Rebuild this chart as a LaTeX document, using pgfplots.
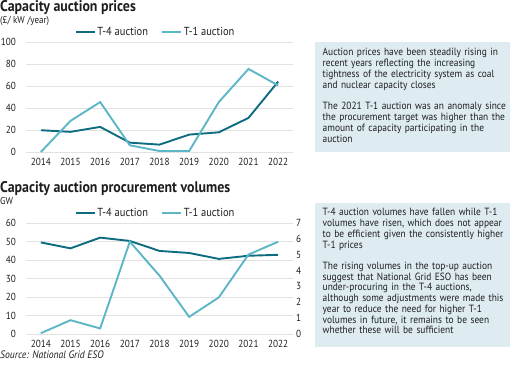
\documentclass[border=0pt]{standalone}
\usepackage{pgfplots}
\pgfplotsset{compat=1.18}
\usepackage{fontspec}
\setmainfont{PT Sans}[FakeStretch=0.9]
\definecolor{tfour}{RGB}{14,108,128}
\definecolor{tone}{RGB}{92,182,198}
\definecolor{boxbg}{RGB}{222,236,242}
\definecolor{gridc}{RGB}{226,226,226}
\definecolor{txt}{RGB}{30,30,30}
\pgfplotsset{
  common/.style={
    scale only axis, width=267bp, xmin=2013.5, xmax=2022.5,
    axis line style={draw=none}, major tick length=0pt,
    /pgf/number format/assume math mode=true, /pgf/number format/1000 sep={},
    tick label style={font=\fontsize{10.3}{12}\selectfont, text=txt},
    xtick={2014,...,2022},
    xticklabel style={yshift=-2.5bp},
    yticklabel style={xshift=-6.5bp},
    ymajorgrids, grid style={gridc, line width=0.8pt},
    clip=false,
    legend image code/.code={\draw[##1] (0bp,0bp) -- (19bp,0bp);},
    legend style={draw=none, fill=none, legend columns=2,
      font=\fontsize{11.7}{13}\selectfont, text=txt,
      /tikz/every even column/.append style={column sep=11bp},
      at={(axis description cs:0.485,1.09)}, anchor=center},
  },
  t4/.style={tfour, line width=1.9bp},
  t1/.style={tone, line width=1.9bp},
}
\begin{document}
\begin{tikzpicture}
\useasboundingbox (0bp,0bp) rectangle (510bp,368bp);
% titles
\node[anchor=base west, inner sep=0pt, text=txt, font=\fontsize{15.5}{17}\selectfont\bfseries] at (0bp,356bp) {Capacity auction prices};
\node[anchor=base west, inner sep=0pt, text=txt, font=\fontsize{10}{12}\selectfont] at (0bp,344.3bp) {(£/ kW /year)};
\node[anchor=base west, inner sep=0pt, text=txt, font=\fontsize{15.5}{17}\selectfont\bfseries] at (0bp,175.8bp) {Capacity auction procurement volumes};
\node[anchor=base west, inner sep=0pt, text=txt, font=\fontsize{10}{12}\selectfont] at (0bp,163.5bp) {GW};
\node[anchor=base west, inner sep=0pt, text=txt, font=\fontsize{10.8}{12}\selectfont\itshape] at (0bp,9.7bp) {Source: National Grid ESO};
% boxes
\fill[boxbg] (315bp,326bp) rectangle (510bp,216bp);
\fill[boxbg] (315bp,165bp) rectangle (510bp,21bp);
\tikzset{boxtxt/.style={anchor=base west, inner sep=0pt, text width=200bp, align=left, text=txt, font=\fontsize{10.5}{10.8}\selectfont}}
\node[boxtxt] at (322.5bp,312bp) {Auction prices have been steadily rising in\\recent years reflecting the increasing\\tightness of the electricity system as coal\\and nuclear capacity closes};
\node[boxtxt] at (322.5bp,258bp) {The 2021 T-1 auction was an anomaly since\\the procurement target was higher than the\\amount of capacity participating in the\\auction};
\node[boxtxt] at (322.5bp,152bp) {T-4 auction volumes have fallen while T-1\\volumes have risen, which does not appear\\to be efficient given the consistently higher\\T-1 prices};
\node[boxtxt] at (322.5bp,98.7bp) {The rising volumes in the top-up auction\\suggest that National Grid ESO has been\\under-procuring in the T-4 auctions,\\although some adjustments were made this\\year to reduce the need for higher T-1\\volumes in future, it remains to be seen\\whether these will be sufficient};
% top chart
\begin{axis}[common, at={(26bp,216bp)}, anchor=south west, height=110bp,
  ymin=0, ymax=100, ytick={0,20,...,100}]
\addplot[t4] coordinates {(2014,19.8) (2015,18.3) (2016,22.8) (2017,8.5) (2018,6.7) (2019,15.8) (2020,17.9) (2021,31) (2022,64)};
\addlegendentry{T-4 auction}
\addplot[t1] coordinates {(2014,0) (2015,28.3) (2016,45.4) (2017,6.1) (2018,0.9) (2019,0.9) (2020,45.4) (2021,75.5) (2022,60.5)};
\addlegendentry{T-1 auction}
\end{axis}
% bottom chart, left axis
\begin{axis}[common, at={(26bp,34bp)}, anchor=south west, height=111bp,
  ymin=0, ymax=60, ytick={0,10,...,60}]
\addplot[t4] coordinates {(2014,49.5) (2015,46.3) (2016,52.1) (2017,50.3) (2018,44.9) (2019,43.8) (2020,40.6) (2021,42.3) (2022,42.8)};
\addlegendentry{T-4 auction}
\addlegendimage{t1}
\addlegendentry{T-1 auction}
\end{axis}
% bottom chart, right axis
\begin{axis}[common, at={(26bp,34bp)}, anchor=south west, height=111bp,
  ymajorgrids=false, axis x line=none, axis y line*=right,
  ymin=0, ymax=7, ytick={0,1,...,7},
  yticklabel style={xshift=6bp}]
\addplot[t1] coordinates {(2014,0.05) (2015,0.87) (2016,0.35) (2017,5.82) (2018,3.68) (2019,1.08) (2020,2.31) (2021,5.01) (2022,5.82)};
\end{axis}
\end{tikzpicture}
\end{document}
